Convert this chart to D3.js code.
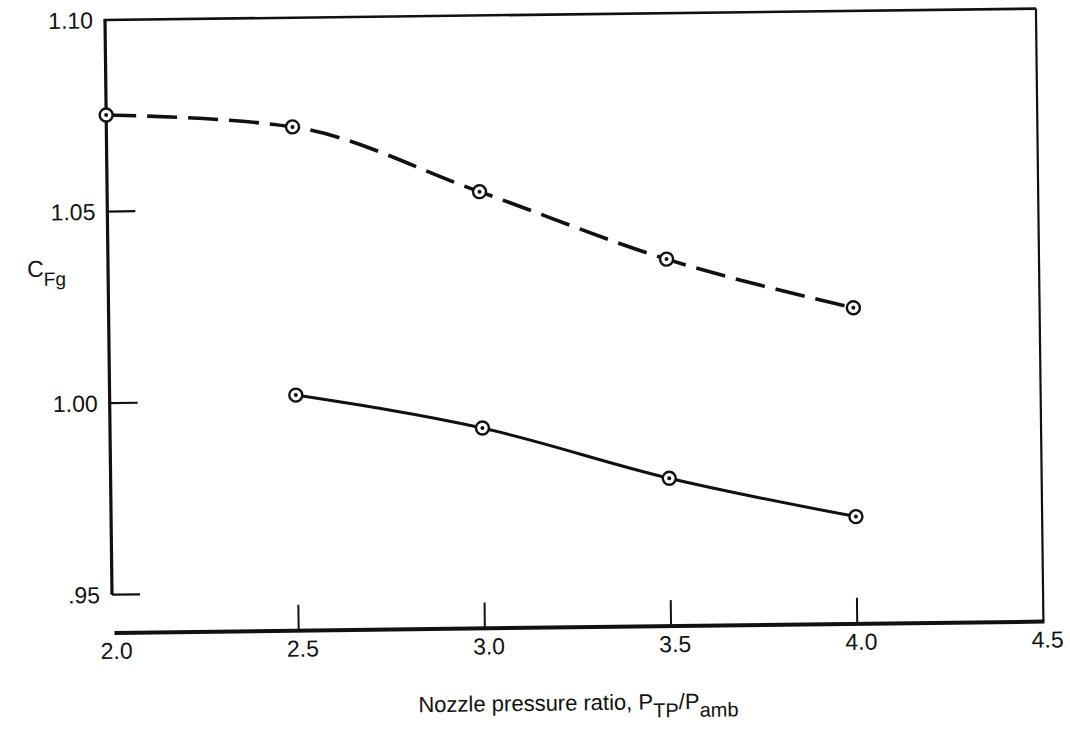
<!DOCTYPE html>
<meta charset="utf-8">
<script src="https://d3js.org/d3.v7.min.js"></script>
<style>
  body { margin: 0; background: #fff; }
  text { font-family: "Liberation Sans", Arial, sans-serif; fill: #111; }
</style>
<div id="chart"></div>
<script>

// values
var xTicks = [2.0, 2.5, 3.0, 3.5, 4.0, 4.5];
var xTickLabels = ["2.0", "2.5", "3.0", "3.5", "4.0", "4.5"];
var yTicks = [0.95, 1.00, 1.05, 1.10];
var yTickLabels = [".95", "1.00", "1.05", "1.10"];

var nprDashed = [2.0, 2.5, 3.0, 3.5, 4.0];
var cfgDashed = [1.0752, 1.0715, 1.0540, 1.0358, 1.0225];
var nprSolid = [2.5, 3.0, 3.5, 4.0];
var cfgSolid = [1.0015, 0.9923, 0.9786, 0.9680];

var width = 1070, height = 730;

var svg = d3.select("#chart")
  .append("svg")
    .attr("width", width)
    .attr("height", height);

// the scan is slightly tilted, so the whole plot is turned a little
var g = svg.append("g")
    .attr("transform", "rotate(-0.7, 105, 20)");

var x = d3.scaleLinear()
  .domain([2.0, 4.5])
  .range([105, 1036]);

var y = d3.scaleLinear()
  .domain([0.94, 1.10])
  .range([633, 20]);

var ink = "#111";

// frame: left axis (1.10 down to .95), top, right, bottom axis
g.append("line")
  .attr("x1", x(2.0)).attr("x2", x(2.0))
  .attr("y1", y(1.10)).attr("y2", y(0.95))
  .attr("stroke", ink).attr("stroke-width", 3.2);
g.append("line")
  .attr("x1", x(2.0) - 1.5).attr("x2", x(4.5))
  .attr("y1", y(1.10)).attr("y2", y(1.10))
  .attr("stroke", ink).attr("stroke-width", 2.6);
g.append("line")
  .attr("x1", x(4.5)).attr("x2", x(4.5))
  .attr("y1", y(1.10)).attr("y2", y(0.94))
  .attr("stroke", ink).attr("stroke-width", 2.2);
g.append("line")
  .attr("x1", x(2.0) + 2).attr("x2", x(4.5) + 1)
  .attr("y1", y(0.94)).attr("y2", y(0.94))
  .attr("stroke", ink).attr("stroke-width", 4);

// y ticks point inward
g.selectAll(".ytick")
  .data(yTicks.filter(function(d) { return d < 1.10; }))
  .enter().append("line")
    .attr("class", "ytick")
    .attr("x1", x(2.0)).attr("x2", x(2.0) + 28)
    .attr("y1", function(d) { return y(d); })
    .attr("y2", function(d) { return y(d); })
    .attr("stroke", ink).attr("stroke-width", 2.2);

g.selectAll(".ylabel")
  .data(yTicks)
  .enter().append("text")
    .attr("class", "ylabel")
    .attr("x", x(2.0) - 12)
    .attr("y", function(d) { return y(d); })
    .attr("dy", "0.36em")
    .attr("text-anchor", "end")
    .style("font-size", "23px")
    .text(function(d, i) { return yTickLabels[i]; });

// x ticks point upward from the bottom axis
g.selectAll(".xtick")
  .data(xTicks.filter(function(d) { return d > 2.0 && d < 4.5; }))
  .enter().append("line")
    .attr("class", "xtick")
    .attr("x1", function(d) { return x(d); })
    .attr("x2", function(d) { return x(d); })
    .attr("y1", y(0.94)).attr("y2", y(0.94) - 26)
    .attr("stroke", ink).attr("stroke-width", 2);

g.selectAll(".xlabel")
  .data(xTicks)
  .enter().append("text")
    .attr("class", "xlabel")
    .attr("x", function(d) { return x(d) + 4; })
    .attr("y", y(0.94) + 26)
    .attr("text-anchor", "middle")
    .style("font-size", "23px")
    .text(function(d, i) { return xTickLabels[i]; });

// curves
var line = d3.line()
  .x(function(d) { return x(d[0]); })
  .y(function(d) { return y(d[1]); })
  .curve(d3.curveMonotoneX);

var dashedData = nprDashed.map(function(d, i) { return [d, cfgDashed[i]]; });
var solidData = nprSolid.map(function(d, i) { return [d, cfgSolid[i]]; });

g.append("path")
  .datum(dashedData)
  .attr("d", line)
  .attr("fill", "none")
  .attr("stroke", ink)
  .attr("stroke-width", 3.6)
  .attr("stroke-dasharray", "30,11");

g.append("path")
  .datum(solidData)
  .attr("d", line)
  .attr("fill", "none")
  .attr("stroke", ink)
  .attr("stroke-width", 3);

// circled-dot markers
function markers(data) {
  var m = g.append("g").selectAll("g")
    .data(data)
    .enter().append("g")
      .attr("transform", function(d) { return "translate(" + x(d[0]) + "," + y(d[1]) + ")"; });
  m.append("circle")
    .attr("r", 6.5)
    .attr("fill", "#fff")
    .attr("stroke", ink)
    .attr("stroke-width", 2.4);
  m.append("circle")
    .attr("r", 2)
    .attr("fill", ink);
}
markers(dashedData);
markers(solidData);

// axis titles
var yt = g.append("text")
  .attr("x", 24)
  .attr("y", 276)
  .style("font-size", "23px");
yt.append("tspan").text("C");
yt.append("tspan").attr("dy", 9).style("font-size", "19px").text("Fg");

var xt = g.append("text")
  .attr("x", 410)
  .attr("y", 716)
  .style("font-size", "22px");
xt.append("tspan").text("Nozzle pressure ratio, P");
xt.append("tspan").attr("dy", 8).style("font-size", "20px").text("TP");
xt.append("tspan").attr("dy", -8).text("/P");
xt.append("tspan").attr("dy", 8).style("font-size", "20px").text("amb");

</script>
